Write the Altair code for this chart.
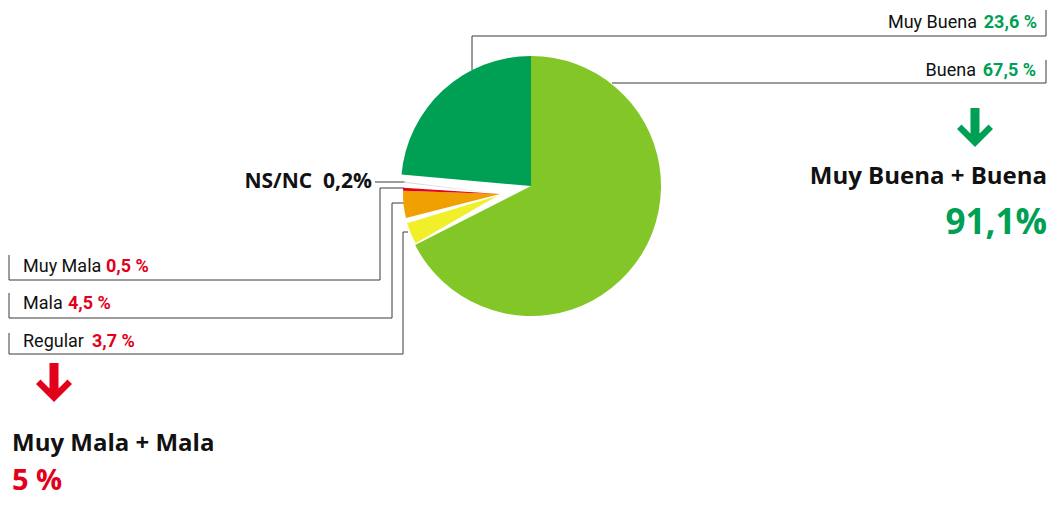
import math
import altair as alt
import pandas as pd

# ---------------- data ----------------
categories = ["Buena", "Regular", "Mala", "Muy Mala", "NS/NC", "Muy Buena"]
values = [67.5, 3.7, 4.5, 0.5, 0.2, 23.6]
value_labels = ["67,5 %", "3,7 %", "4,5 %", "0,5 %", "0,2%", "23,6 %"]
slice_colors = ["#82C628", "#F1EE2A", "#F0A000", "#E2001A", "#DCDCDC", "#00A054"]

total_good_label = "Muy Buena + Buena"
total_good_value = "91,1%"
total_bad_label = "Muy Mala + Mala"
total_bad_value = "5 %"

GREEN = "#00A054"
RED = "#E2001A"
LINE = "#3A3A3A"
INK = "#111111"

W, H = 1039, 491   # plot area
OFF = 8            # page margin: reference pixel -> chart pixel

# cumulative start / end of every slice (percent of the whole)
starts, ends, acc = [], [], 0.0
for v in values:
    starts.append(acc)
    acc += v
    ends.append(acc)

pie = pd.DataFrame({"cat": categories, "value": values, "start": starts, "end": ends})

color_scale = alt.Scale(domain=categories, range=slice_colors)
theta_scale = alt.Scale(domain=[0, 100], range=[0, 2 * math.pi])


def arc_layer(cats, cx, cy, r, theta_offset=0.0):
    return alt.Chart(pie).transform_filter(
        alt.FieldOneOfPredicate(field="cat", oneOf=cats)
    ).mark_arc(
        x=cx - OFF, y=cy - OFF, outerRadius=r,
        thetaOffset=theta_offset, theta2Offset=theta_offset,
    ).encode(
        theta=alt.Theta("start:Q", scale=theta_scale),
        theta2="end:Q",
        color=alt.Color("cat:N", scale=color_scale, legend=None),
    )


main_pie = arc_layer(["Buena", "Muy Buena"], 531, 186, 130)
pie_regular = arc_layer(["Regular"], 497, 196, 94, -0.055)
pie_mala = arc_layer(["Mala", "Muy Mala"], 500, 194, 97, -0.01)
pie_ns = arc_layer(["NS/NC"], 500, 194, 97, 0.04)

xs = alt.Scale(domain=[OFF, W + OFF], range=[0, W], nice=False, zero=False)
ys = alt.Scale(domain=[OFF, H + OFF], range=[0, H], nice=False, zero=False)

# leader lines (reference pixel layout)
RX = 1046
paths = [
    [(472, 70), (472, 36), (RX, 36), (RX, 10)],          # Muy Buena
    [(612, 83), (RX, 83), (RX, 60)],                     # Buena
    [(375, 182), (405, 182)],                            # NS/NC
    [(404, 188), (380, 188), (380, 280), (9, 280), (9, 255)],   # Muy Mala
    [(404, 203), (392, 203), (392, 318), (9, 318), (9, 293)],   # Mala
    [(408, 232), (403, 232), (403, 354), (9, 354), (9, 333)],   # Regular
]
segs = []
for p in paths:
    for a, b in zip(p[:-1], p[1:]):
        segs.append({"x": a[0], "y": a[1], "x2": b[0], "y2": b[1]})
leaders = alt.Chart(pd.DataFrame(segs)).mark_rule(
    color=LINE, strokeWidth=1
).encode(
    x=alt.X("x:Q", scale=xs, axis=None),
    y=alt.Y("y:Q", scale=ys, axis=None),
    x2="x2:Q", y2="y2:Q",
)


def text_layer(rows, font, weight, size, align):
    df = pd.DataFrame(rows, columns=["x", "y", "text", "color"])
    return alt.Chart(df).mark_text(
        font=font, fontWeight=weight, fontSize=size, align=align,
        baseline="alphabetic",
    ).encode(
        x=alt.X("x:Q", scale=xs, axis=None),
        y=alt.Y("y:Q", scale=ys, axis=None),
        text="text:N",
        color=alt.Color("color:N", scale=None),
    )


COND = "Roboto, sans-serif"
BOLD = "Open Sans, Noto Sans, sans-serif"
FS = 18

names_right = text_layer([
    (977, 28, categories[5], INK),
    (976, 76, categories[0], INK),
], COND, "normal", FS, "right")
vals_right = text_layer([
    (1037, 28, value_labels[5], GREEN),
    (1036, 76, value_labels[0], GREEN),
], COND, "bold", FS, "right")
names_left = text_layer([
    (23, 272, categories[3], INK),
    (23, 309, categories[2], INK),
    (23, 347, categories[1], INK),
], COND, "normal", FS, "left")
vals_left = text_layer([
    (106, 272, value_labels[3], RED),
    (68, 309, value_labels[2], RED),
    (92, 347, value_labels[1], RED),
], COND, "bold", FS, "left")

nsnc = text_layer([
    (372, 188, categories[4] + "\u00a0\u00a0" + value_labels[4], INK),
], BOLD, "bold", 21, "right")
good_lbl = text_layer([(1047, 184, total_good_label, INK)], BOLD, "bold", 24, "right")
good_val = text_layer([(1047, 234, total_good_value, GREEN)], BOLD, "bold", 35, "right")
bad_lbl = text_layer([(12, 451, total_bad_label, INK)], BOLD, "bold", 24, "left")
bad_val = text_layer([(12, 490, total_bad_value, RED)], BOLD, "bold", 29, "left")

ARROW = "M-0.25,-1 L0.25,-1 L0.25,0.42 L0.75,-0.08 L1,0.17 L0,1.17 L-1,0.17 L-0.75,-0.08 L-0.25,0.42 Z"
arrows_df = pd.DataFrame({"x": [975, 54], "y": [126, 381], "color": [GREEN, RED]})
arrows = alt.Chart(arrows_df).mark_point(
    shape=ARROW, filled=True, size=1296, opacity=1, strokeWidth=0
).encode(
    x=alt.X("x:Q", scale=xs, axis=None),
    y=alt.Y("y:Q", scale=ys, axis=None),
    color=alt.Color("color:N", scale=None),
)

chart = alt.layer(
    leaders, main_pie, pie_regular, pie_mala, pie_ns,
    names_right, vals_right, names_left, vals_left,
    nsnc, good_lbl, good_val, bad_lbl, bad_val, arrows,
).properties(
    width=W, height=H, padding=0,
    autosize=alt.AutoSizeParams(type="none"),
).configure_view(stroke=None).resolve_scale(color="independent")

chart.save("out.html", embed_options={"renderer": "svg", "actions": False})
